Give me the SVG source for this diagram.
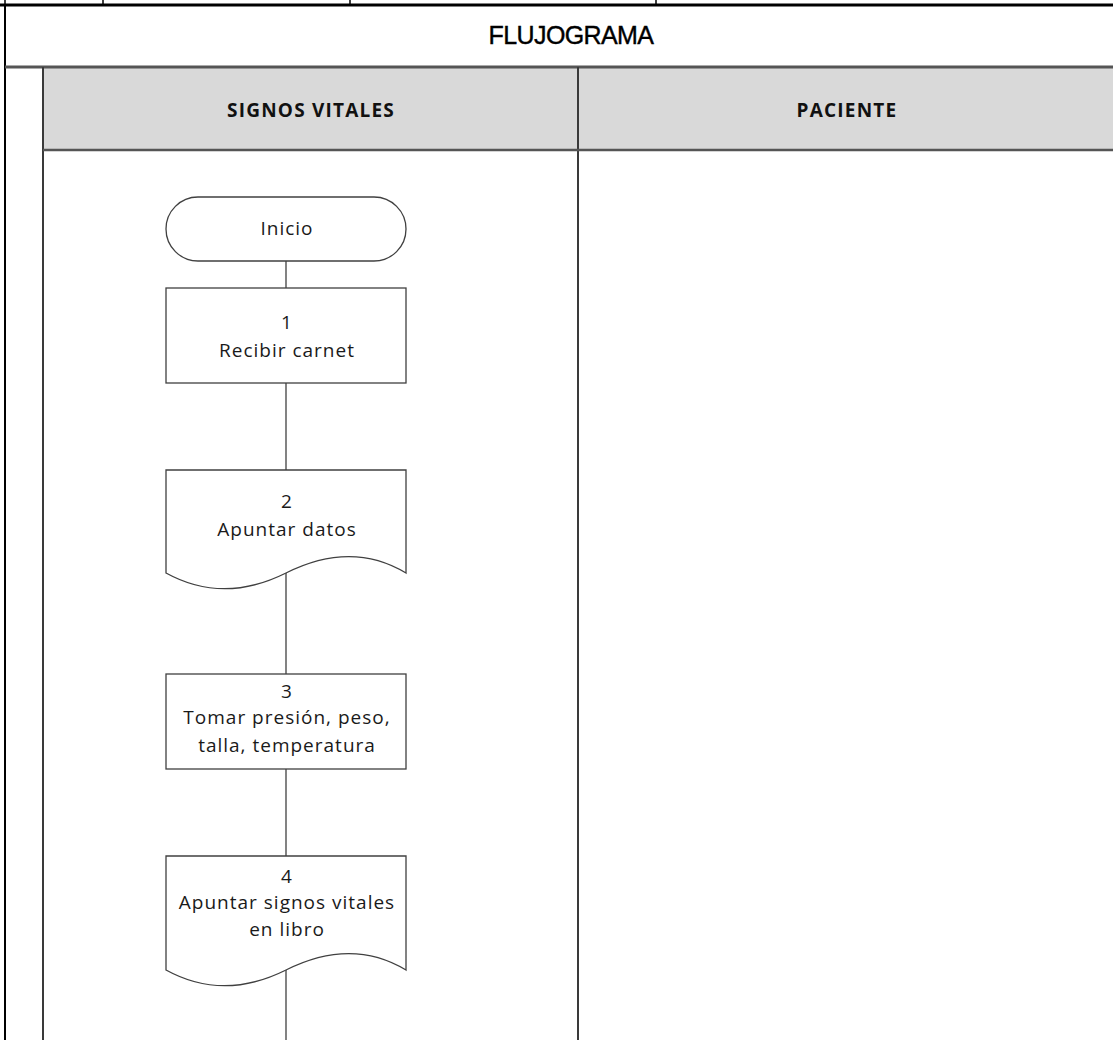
<svg xmlns="http://www.w3.org/2000/svg" width="1113" height="1040" viewBox="0 0 1113 1040">
<style>
.frame{stroke:#000;fill:none}
.lane{stroke:#3a3a3a;stroke-width:2;fill:none}
.node{fill:#fff;stroke:#404040;stroke-width:1.3}
.conn{stroke:#404040;stroke-width:1.3;fill:none}
.t{font-family:"Open Sans","Liberation Sans",sans-serif;font-size:19px;letter-spacing:1px;fill:#1a1a1a;text-anchor:middle}
.h{font-family:"Open Sans","Liberation Sans",sans-serif;font-size:19px;font-weight:bold;letter-spacing:1.2px;fill:#111;text-anchor:middle}
.title{font-family:"Liberation Sans",sans-serif;font-size:25px;fill:#000;stroke:#000;stroke-width:0.4;text-anchor:middle;letter-spacing:-0.6px}
</style>
<rect width="1113" height="1040" fill="#fff"/>
<g id="frame">
<line class="frame" x1="5" y1="0" x2="5" y2="5" stroke-width="1.5"/>
<line class="frame" x1="103" y1="0" x2="103" y2="5" stroke-width="1.5"/>
<line class="frame" x1="350" y1="0" x2="350" y2="5" stroke-width="1.5"/>
<line class="frame" x1="656" y1="0" x2="656" y2="5" stroke-width="1.5"/>
<line class="frame" x1="0" y1="5" x2="1113" y2="5" stroke-width="3"/>
<line class="frame" x1="5" y1="5" x2="5" y2="1040" stroke-width="2" stroke="#2a2a2a"/>
<text class="title" x="571" y="44">FLUJOGRAMA</text>
<rect x="43" y="67" width="1070" height="83" fill="#d9d9d9"/>
<line x1="5" y1="67" x2="1113" y2="67" stroke="#555" stroke-width="3"/>
<line class="lane" x1="43" y1="67" x2="43" y2="1040"/>
<line class="lane" x1="578" y1="67" x2="578" y2="1040"/>
<line x1="43" y1="150" x2="1113" y2="150" stroke="#555" stroke-width="2.5"/>
<text class="h" x="311" y="117">SIGNOS VITALES</text>
<text class="h" x="847" y="117">PACIENTE</text>
</g>
<g id="connectors">
<line class="conn" x1="286" y1="261" x2="286" y2="288"/>
<line class="conn" x1="286" y1="383" x2="286" y2="470"/>
<line class="conn" x1="286" y1="573" x2="286" y2="674"/>
<line class="conn" x1="286" y1="769" x2="286" y2="856"/>
<line class="conn" x1="286" y1="970" x2="286" y2="1040"/>
</g>
<g id="inicio">
<rect class="node" x="166" y="197" width="240" height="64" rx="32" ry="32"/>
<text class="t" x="287" y="235">Inicio</text>
</g>
<g id="n1">
<rect class="node" x="166" y="288" width="240" height="95"/>
<text class="t" x="287" y="329">1</text>
<text class="t" x="287" y="357">Recibir carnet</text>
</g>
<g id="n2">
<path class="node" d="M166,470 H406 V573 C366,549 326,553 286,573 C246,593 206,595 166,573 Z"/>
<text class="t" x="287" y="508">2</text>
<text class="t" x="287" y="536">Apuntar datos</text>
</g>
<g id="n3">
<rect class="node" x="166" y="674" width="240" height="95"/>
<text class="t" x="287" y="698">3</text>
<text class="t" x="287" y="724">Tomar presión, peso,</text>
<text class="t" x="287" y="752">talla, temperatura</text>
</g>
<g id="n4">
<path class="node" d="M166,856 H406 V970 C366,946 326,950 286,970 C246,990 206,992 166,970 Z"/>
<text class="t" x="287" y="883">4</text>
<text class="t" x="287" y="909">Apuntar signos vitales</text>
<text class="t" x="287" y="936">en libro</text>
</g>
</svg>
